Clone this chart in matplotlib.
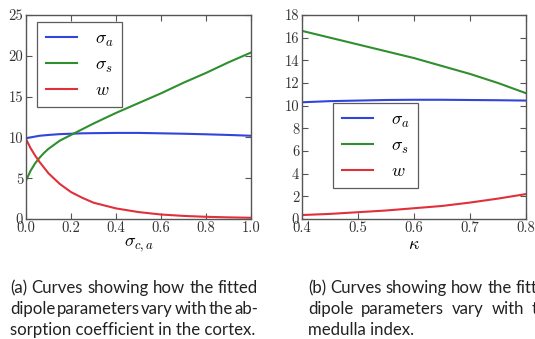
import matplotlib
matplotlib.use("Agg")
import matplotlib.pyplot as plt

# Fitted dipole parameters vs. absorption coefficient in the cortex
sigma_ca = [0.0, 0.02, 0.04, 0.06, 0.08, 0.1, 0.15, 0.2, 0.25, 0.3, 0.4, 0.5, 0.6, 0.7, 0.8, 0.9, 1.0]
a_sigma_a = [9.9, 10.0, 10.1, 10.2, 10.25, 10.3, 10.4, 10.45, 10.5, 10.52, 10.55, 10.55, 10.5, 10.45, 10.38, 10.3, 10.2]
a_sigma_s = [4.7, 5.9, 6.8, 7.5, 8.1, 8.6, 9.6, 10.3, 11.0, 11.7, 13.0, 14.2, 15.4, 16.7, 17.9, 19.2, 20.4]
a_w = [9.8, 8.7, 7.8, 7.0, 6.3, 5.6, 4.3, 3.3, 2.6, 2.0, 1.3, 0.85, 0.55, 0.38, 0.27, 0.2, 0.15]

# Fitted dipole parameters vs. medulla index
kappa = [0.4, 0.45, 0.5, 0.55, 0.6, 0.65, 0.7, 0.75, 0.8]
b_sigma_a = [10.3, 10.4, 10.45, 10.5, 10.52, 10.52, 10.5, 10.48, 10.45]
b_sigma_s = [16.6, 16.0, 15.4, 14.8, 14.2, 13.5, 12.8, 12.0, 11.1]
b_w = [0.35, 0.45, 0.6, 0.75, 0.95, 1.15, 1.45, 1.8, 2.2]

xticks_a = [0.0, 0.2, 0.4, 0.6, 0.8, 1.0]
yticks_a = [0, 5, 10, 15, 20, 25]
xticks_b = [0.4, 0.5, 0.6, 0.7, 0.8]
yticks_b = [0, 2, 4, 6, 8, 10, 12, 14, 16, 18]

labels = [r"$\sigma_a$", r"$\sigma_s$", r"$w$"]
colors = ["#3344dd", "#2f8f2f", "#e0303a"]

caption_a = ["(a) Curves showing how the fitted",
             "dipole parameters vary with the ab-",
             "sorption coefficient in the cortex."]
caption_b = ["(b) Curves showing how the fitted",
             "dipole parameters vary with the",
             "medulla index."]

plt.rcParams["font.family"] = "serif"
plt.rcParams["font.serif"] = ["cmr10", "DejaVu Serif"]
plt.rcParams["mathtext.fontset"] = "cm"
plt.rcParams["axes.unicode_minus"] = False

W, H = 535, 339
DPI = 100
fig = plt.figure(figsize=(W / DPI, H / DPI), dpi=DPI)
fig.patch.set_facecolor("white")


def px_axes(x0, y0, x1, y1):
    return fig.add_axes([x0 / W, 1 - y1 / H, (x1 - x0) / W, (y1 - y0) / H])


def style(ax):
    for s in ax.spines.values():
        s.set_color("#555555")
        s.set_linewidth(1.0)
    ax.tick_params(direction="in", top=True, right=True, length=4, width=0.8,
                   color="#555555", labelsize=10.5, pad=2, labelcolor="#333333")


ax1 = px_axes(26, 15, 251, 219)
for y, lab, c in zip([a_sigma_a, a_sigma_s, a_w], labels, colors):
    ax1.plot(sigma_ca, y, color=c, lw=1.5, label=lab)
ax1.set_xlim(0, 1)
ax1.set_ylim(0, 25)
ax1.set_xticks(xticks_a)
ax1.set_yticks(yticks_a)
ax1.set_xticklabels([f"{v:.1f}" for v in xticks_a])
ax1.set_xlabel(r"$\sigma_{c,a}$", fontsize=13, labelpad=1)
style(ax1)

ax2 = px_axes(302, 15, 526, 219)
for y, lab, c in zip([b_sigma_a, b_sigma_s, b_w], labels, colors):
    ax2.plot(kappa, y, color=c, lw=1.5, label=lab)
ax2.set_xlim(0.4, 0.8)
ax2.set_ylim(0, 18)
ax2.set_xticks(xticks_b)
ax2.set_yticks(yticks_b)
ax2.set_xticklabels([f"{v:.1f}" for v in xticks_b])
ax2.set_xlabel(r"$\kappa$", fontsize=13, labelpad=1)
style(ax2)

leg_kw = dict(fontsize=13, frameon=True, fancybox=False, handlelength=1.7,
              handletextpad=1.0, labelspacing=0.45, borderpad=0.5,
              borderaxespad=0.0, edgecolor="#333333")
l1 = ax1.legend(loc="upper left", bbox_to_anchor=(37 / W, 1 - 22 / H),
                bbox_transform=fig.transFigure, **leg_kw)
l2 = ax2.legend(loc="upper left", bbox_to_anchor=(333 / W, 1 - 103 / H),
                bbox_transform=fig.transFigure, **leg_kw)
for lg in (l1, l2):
    lg.get_frame().set_linewidth(0.9)

# Justified captions below each panel
fig.canvas.draw()
renderer = fig.canvas.get_renderer()
CAP_FAMILY = "Lato"
CAP_WIDTH = 248

# size the caption font so the closing line of caption (a) spans the column
probe = fig.text(0, 0, caption_a[-1], fontsize=10, family=CAP_FAMILY)
cap_size = 10 * (CAP_WIDTH - 2) / probe.get_window_extent(renderer).width
probe.remove()

cap_kw = dict(fontsize=cap_size, family=CAP_FAMILY, color="#222222",
              va="baseline", ha="left")


def justified(lines, x0, width, y0, lh):
    for i, line in enumerate(lines):
        yy = 1 - (y0 + i * lh) / H
        if i == len(lines) - 1:
            fig.text(x0 / W, yy, line, **cap_kw)
            continue
        words = line.split()
        texts = [fig.text(0, yy, w, **cap_kw) for w in words]
        widths = [t.get_window_extent(renderer).width for t in texts]
        gap = (width - sum(widths)) / (len(words) - 1)
        x = x0
        for t, wd in zip(texts, widths):
            t.set_x(x / W)
            x += wd + gap


justified(caption_a, 10, CAP_WIDTH, 293, 21)
justified(caption_b, 308, CAP_WIDTH, 293, 21)

fig.savefig("out.png", dpi=DPI, facecolor="white")
